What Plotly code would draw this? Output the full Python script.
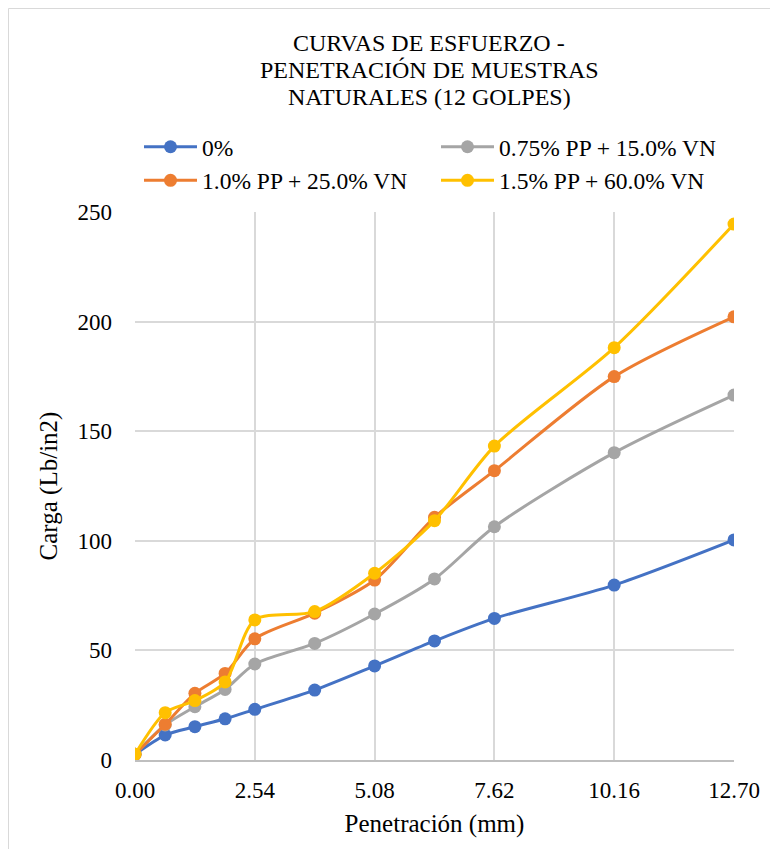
import plotly.graph_objects as go

penetracion = [0.00, 0.64, 1.27, 1.91, 2.54, 3.81, 5.08, 6.35, 7.62, 10.16, 12.70]
serie_0 = [2.6, 11.4, 15.2, 18.8, 23.1, 31.9, 42.9, 54.3, 64.6, 79.8, 100.4]
serie_075 = [2.6, 16.0, 24.3, 32.2, 43.8, 53.2, 66.6, 82.6, 106.4, 140.2, 166.5]
serie_10 = [2.6, 16.3, 30.4, 39.5, 55.3, 67.0, 82.1, 110.7, 132.0, 174.9, 202.2]
serie_15 = [2.6, 21.6, 27.1, 35.6, 63.9, 67.7, 85.2, 109.2, 143.2, 188.1, 244.5]
nombres = ["0%", "0.75% PP + 15.0% VN", "1.0% PP + 25.0% VN", "1.5% PP + 60.0% VN"]
colores = ["#4472C4", "#A5A5A5", "#ED7D31", "#FFC000"]
x_ticks = [0.00, 2.54, 5.08, 7.62, 10.16, 12.70]
x_tick_text = ["0.00", "2.54", "5.08", "7.62", "10.16", "12.70"]
y_ticks = [0, 50, 100, 150, 200, 250]
titulo = ["CURVAS DE ESFUERZO -", "PENETRACIÓN DE MUESTRAS", "NATURALES (12 GOLPES)"]

series = [serie_0, serie_075, serie_10, serie_15]

fig = go.Figure()
for nombre, valores, color in zip(nombres, series, colores):
    fig.add_trace(go.Scatter(
        x=penetracion, y=valores, name=nombre, mode="lines+markers",
        line=dict(color=color, width=3, shape="spline", smoothing=0.8),
        marker=dict(color=color, size=13),
    ))

# page body has an 8px margin; positions below are in screen pixels
OFF = 8
W, H = 778, 849
PL, PR, PT, PB = 135, 734, 212, 760  # plot area on screen
L, T = PL - OFF, PT - OFF
R, B = W - (PR - OFF), H - (PB - OFF)
pw, ph = PR - PL, PB - PT

def px(xs):
    return (xs - PL) / pw

def py(ys):
    return (PB - ys) / ph

ff = "Liberation Serif, Times New Roman, serif"

annotations = []
for texto, yc in zip(titulo, [43, 70, 97]):
    annotations.append(dict(
        text=texto, xref="paper", yref="paper", x=px(429), y=py(yc),
        xanchor="center", yanchor="middle", showarrow=False,
        font=dict(size=24, family=ff, color="#000000"),
    ))

fig.update_layout(
    width=W, height=H,
    margin=dict(l=L, r=R, t=T, b=B),
    paper_bgcolor="white", plot_bgcolor="white",
    font=dict(family=ff, color="#000000", size=23),
    annotations=annotations,
    legend=dict(
        orientation="h", x=px(139), xanchor="left", y=py(125), yanchor="top",
        entrywidth=229, entrywidthmode="pixels",
        font=dict(size=23.5, family=ff, color="#000000"),
        bgcolor="rgba(0,0,0,0)", itemwidth=53,
    ),
    showlegend=True,
    xaxis=dict(
        range=[0, 12.70], tickvals=x_ticks, ticktext=x_tick_text,
        showgrid=True, gridcolor="#D9D9D9", gridwidth=1.5,
        showline=True, linecolor="#BFBFBF", linewidth=1.5,
        zeroline=False, ticks="", ticklabelstandoff=9,
        tickfont=dict(size=23, family=ff, color="#000000"),
        title=dict(text="Penetración (mm)", font=dict(size=25, family=ff, color="#000000"), standoff=12),
    ),
    yaxis=dict(
        range=[0, 250], tickvals=y_ticks,
        showgrid=True, gridcolor="#D9D9D9", gridwidth=1.5,
        zeroline=False, showline=False, ticks="", ticklabelstandoff=22,
        tickfont=dict(size=23, family=ff, color="#000000"),
        title=dict(text="Carga (Lb/in2)", font=dict(size=25, family=ff, color="#000000"), standoff=12),
    ),
    shapes=[dict(
        type="rect", xref="paper", yref="paper",
        x0=px(OFF + 0.5), x1=px(W + 20), y0=py(H + 20), y1=py(OFF + 0.5),
        line=dict(color="#D9D9D9", width=1), fillcolor="rgba(0,0,0,0)", layer="below",
    )],
)

fig.write_html("out.html")
